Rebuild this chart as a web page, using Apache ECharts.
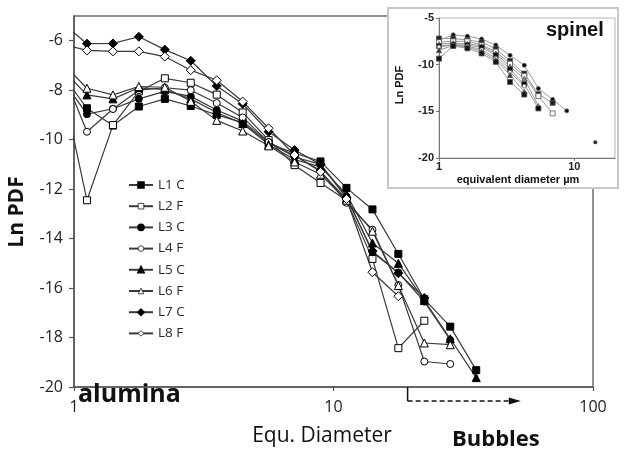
<!DOCTYPE html>
<html>
<head>
<meta charset="utf-8">
<script src="https://cdn.jsdelivr.net/npm/echarts@6/dist/echarts.min.js"></script>
<style>html,body{margin:0;padding:0;background:#fff}#c{width:625px;height:449px}</style>
</head>
<body>
<div id="c"></div>
<script>
// ---- main chart (alumina) ----
const xMain = [0.891, 1.122, 1.413, 1.778, 2.239, 2.818, 3.548, 4.467, 5.623, 7.079, 8.913, 11.22, 14.13, 17.78, 22.39, 28.18, 35.48];
const L1C = [-7.3, -8.73, -9.43, -8.66, -8.35, -8.64, -9.0, -9.31, -10.15, -10.55, -10.88, -11.95, -12.82, -14.62, -16.45, -17.56, -19.32];
const L2F = [-7.55, -12.45, -9.41, -8.05, -7.52, -7.7, -8.18, -8.9, -10.02, -11.03, -11.75, -12.45, -14.82, -18.43, -17.32, null, null];
const L3C = [-7.5, -8.97, -8.75, -8.35, -8.05, -8.25, -8.8, -9.25, -10.1, -10.7, -11.0, -12.3, -14.55, -15.37, -16.55, -18.1, null];
const L4F = [-7.1, -9.68, -8.76, -8.0, -7.9, -8.0, -8.52, -9.1, -10.1, -10.65, -11.25, -12.55, -13.64, -15.88, -18.97, -19.07, null];
const L5C = [-7.11, -8.19, -8.35, -7.9, -7.98, -8.35, -8.9, -9.35, -10.2, -10.8, -11.1, -12.2, -14.18, -15.0, -16.5, -18.05, -19.62];
const L6F = [-6.84, -7.92, -8.19, -7.85, -7.88, -8.45, -9.22, -9.65, -10.25, -10.9, -11.4, -12.45, -13.7, -15.9, -18.22, -18.29, null];
const L7C = [-5.24, -6.12, -6.11, -5.84, -6.36, -6.81, -7.83, -8.55, -9.68, -10.42, -11.0, -12.35, -14.5, -15.4, -16.4, null, null];
const L8F = [-6.13, -6.39, -6.43, -6.43, -6.64, -7.19, -7.6, -8.46, -9.54, -10.62, -11.3, -12.4, -15.36, -16.33, null, null, null];
const mainNames = ['L1 C', 'L2 F', 'L3 C', 'L4 F', 'L5 C', 'L6 F', 'L7 C', 'L8 F'];
const yTicksMain = [-20, -5, 2];   // min, max, interval
const xTicksMain = [1, 100];

// ---- inset (spinel) ----
const xInset = [1.0, 1.274, 1.622, 2.065, 2.63, 3.35, 4.27, 5.43, 6.92, 8.8];
const S1 = [-7.4, -6.8, -6.95, -7.25, -7.9, -9.0, -10.06, -12.55, -13.72, -14.95];
const S2 = [-7.2, -7.2, -7.35, -7.6, -8.3, -9.6, -10.95, -13.16, -14.09];
const S3 = [-7.6, -7.5, -7.5, -7.9, -8.6, -9.9, -11.2, -13.37, -15.22];
const S4 = [-7.8, -7.7, -7.75, -8.0, -8.8, -10.2, -11.5, -14.44];
const S5 = [-8.0, -7.85, -7.9, -8.15, -9.0, -10.5, -12.09, -14.69];
const S6 = [-8.1, -7.9, -8.0, -8.4, -9.3, -10.8, -12.3];
const S7 = [-8.45, -7.95, -8.1, -8.6, -9.5, -11.1, -12.9];
const S8 = [-9.35, -8.0, -8.25, -8.8, -9.7, -11.85, -13.2];
const insetLone = [[14.3, -18.32]];

function pairs(xs, ys) {
  const out = [];
  ys.forEach((v, i) => { if (v !== null) out.push([xs[i], v]); });
  return out;
}

const mainData = [L1C, L2F, L3C, L4F, L5C, L6F, L7C, L8F];
const mainSym = [
  ['rect', 7, true], ['rect', 7, false], ['circle', 7, true], ['circle', 7, false],
  ['triangle', 8, true], ['triangle', 8, false], ['diamond', 9, true], ['diamond', 9, false]
];

const series = [];
mainData.forEach((ys, i) => {
  const [sym, size, filled] = mainSym[i];
  series.push({
    name: mainNames[i], type: 'line', xAxisIndex: 0, yAxisIndex: 0,
    data: pairs(xMain, ys), symbol: sym, symbolSize: size, showAllSymbol: true,
    clip: true, z: 2,
    lineStyle: { color: '#3a3a3a', width: 1.2 },
    itemStyle: { color: filled ? '#000' : '#fff', borderColor: '#000', borderWidth: 1 },
    emphasis: { disabled: true }
  });
});

const insetData = [S1, S2, S3, S4, S5, S6, S7, S8];
const insetSym = [
  ['circle', 4, '#000'], ['rect', 5, '#222'], ['rect', 5, '#fff'], ['triangle', 5, '#888'],
  ['rect', 5, '#000'], ['circle', 4, '#fff'], ['triangle', 5, '#333'], ['rect', 5, '#111']
];
insetData.forEach((ys, i) => {
  const [sym, size, fill] = insetSym[i];
  series.push({
    name: 'S' + (i + 1), type: 'line', xAxisIndex: 1, yAxisIndex: 1,
    data: pairs(xInset, ys), symbol: sym, symbolSize: size, showAllSymbol: true,
    clip: false, z: 12,
    lineStyle: { color: '#9a9a9a', width: 1 },
    itemStyle: { color: fill, borderColor: '#555', borderWidth: 0.8 },
    emphasis: { disabled: true }
  });
});
series.push({
  name: 'lone', type: 'scatter', xAxisIndex: 1, yAxisIndex: 1, data: insetLone,
  symbol: 'circle', symbolSize: 4, z: 12, itemStyle: { color: '#000' }
});

const legendData = mainNames.map((n, i) => (mainSym[i][2] ? n : { name: n, itemStyle: { borderWidth: 0.7 } }));

const chart = echarts.init(document.getElementById('c'), null, { renderer: 'canvas' });
const F = 'Open Sans';
const FI = 'Liberation Sans';
chart.setOption({
  animation: false,
  backgroundColor: '#fff',
  grid: [
    { left: 74, top: 16, right: 32, bottom: 62, show: true, borderColor: '#6e6e6e', borderWidth: 1.5, z: 0 },
    { left: 439, top: 18, right: 10, bottom: 291, show: true, borderColor: '#b5b5b5', borderWidth: 1, backgroundColor: 'rgba(0,0,0,0)', z: 10 }
  ],
  legend: {
    data: legendData, orient: 'vertical', left: 128, top: 178, padding: 0,
    itemWidth: 24, itemHeight: 7, itemGap: 7.2, selectedMode: false,
    textStyle: { fontSize: 13.5, color: '#2a2a2a', fontFamily: F, lineHeight: 13 }
  },
  xAxis: [
    {
      type: 'log', logBase: 10, gridIndex: 0, min: xTicksMain[0], max: xTicksMain[1],
      axisLine: { show: true, lineStyle: { color: '#555', width: 1.5 } },
      axisTick: { show: true, length: 4, lineStyle: { color: '#555', width: 1.2 } },
      minorTick: { show: false }, splitLine: { show: false },
      axisLabel: { margin: 12, fontSize: 16, color: '#222', fontFamily: F }
    },
    {
      type: 'log', logBase: 10, gridIndex: 1, min: 1, max: 20, z: 12,
      axisLine: { show: true, lineStyle: { color: '#777', width: 1 } },
      axisTick: { show: true, length: 3, lineStyle: { color: '#777' } },
      minorTick: { show: false }, splitLine: { show: false },
      axisLabel: { margin: 3, fontSize: 11, fontWeight: 'bold', color: '#222', fontFamily: FI, showMaxLabel: false }
    }
  ],
  yAxis: [
    {
      type: 'value', gridIndex: 0, min: yTicksMain[0], max: yTicksMain[1], interval: yTicksMain[2],
      axisLine: { show: true, lineStyle: { color: '#555', width: 1.5 } },
      axisTick: { show: true, length: 5, lineStyle: { color: '#555', width: 1.2 } },
      splitLine: { show: false },
      axisLabel: { margin: 11, fontSize: 16, color: '#222', fontFamily: F, showMaxLabel: false }
    },
    {
      type: 'value', gridIndex: 1, min: -20, max: -5, interval: 5, z: 12,
      axisLine: { show: true, lineStyle: { color: '#777', width: 1 } },
      axisTick: { show: true, length: 3, lineStyle: { color: '#777' } },
      splitLine: { show: false },
      axisLabel: { margin: 5, fontSize: 11, fontWeight: 'bold', color: '#222', fontFamily: FI }
    }
  ],
  series: series
});

// annotations placed through the axes
const xb = chart.convertToPixel({ xAxisIndex: 0 }, 19.3);
const xe = chart.convertToPixel({ xAxisIndex: 0 }, 52.7);
const yb = chart.convertToPixel({ yAxisIndex: 0 }, -20);
const yLine = yb + 14;

chart.setOption({
  graphic: [
    { type: 'rect', z: 5, shape: { x: 388, y: 8, width: 230, height: 180 },
      style: { fill: '#fff', stroke: '#c8c8c8', lineWidth: 2 } },
    { type: 'text', z: 20, left: 546, top: 20,
      style: { text: 'spinel', font: 'bold 20px "Liberation Sans"', fill: '#111' } },
    { type: 'text', z: 20, x: 400, y: 85, rotation: Math.PI / 2,
      style: { text: 'Ln PDF', font: 'bold 11px "Liberation Sans"', fill: '#111', align: 'center', verticalAlign: 'middle' } },
    { type: 'text', z: 20, x: 518, y: 180,
      style: { text: 'equivalent diameter µm', font: 'bold 11px "Liberation Sans"', fill: '#111', align: 'center', verticalAlign: 'middle' } },
    { type: 'text', z: 20, x: 17.5, y: 212, rotation: Math.PI / 2,
      style: { text: 'Ln PDF', font: 'bold 21px "Open Sans"', fill: '#111', align: 'center', verticalAlign: 'middle' } },
    { type: 'text', z: 20, x: 322, y: 436,
      style: { text: 'Equ. Diameter', font: '21px "Open Sans"', fill: '#111', align: 'center', verticalAlign: 'middle' } },
    { type: 'text', z: 20, x: 78, y: 382,
      style: { text: 'alumina', font: 'bold 25px "Open Sans"', fill: '#111', align: 'left', verticalAlign: 'alphabetic' } },
    { type: 'text', z: 20, x: 452, y: 429,
      style: { text: 'Bubbles', font: 'bold 22px "Open Sans"', fill: '#111', align: 'left', verticalAlign: 'alphabetic' } },
    { type: 'line', z: 20, shape: { x1: xb, y1: yb, x2: xb, y2: yLine }, style: { stroke: '#111', lineWidth: 1.5 } },
    { type: 'line', z: 20, shape: { x1: xb, y1: yLine, x2: xe - 10, y2: yLine }, style: { stroke: '#111', lineWidth: 1.5, lineDash: [5, 3] } },
    { type: 'polygon', z: 20, shape: { points: [[xe - 12, yLine - 3.5], [xe, yLine], [xe - 12, yLine + 3.5]] }, style: { fill: '#111' } }
  ]
});
</script>
</body>
</html>
